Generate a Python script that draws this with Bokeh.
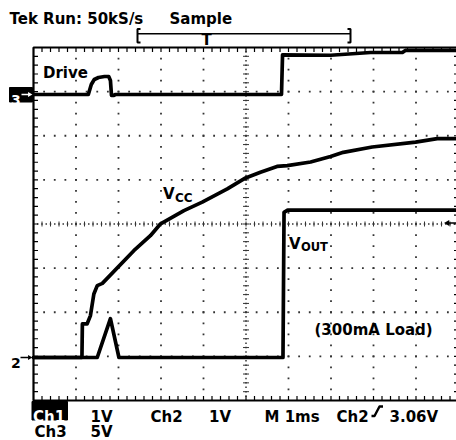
import numpy as np
from bokeh.plotting import figure
from bokeh.models import Range1d
from bokeh.core.properties import value
from bokeh.embed import file_html
from bokeh.resources import INLINE

# ---------------- data (time in ms from left graticule edge, volts) ----------------
drive_t = [0.0, 1.29, 1.36, 1.43, 1.53, 1.67, 1.77, 1.81, 1.835, 1.88, 1.93,
           5.835, 5.86, 6.99, 7.93, 8.68, 8.75, 9.96]
drive_v = [0.0, 0.0, 1.13, 1.70, 1.93, 2.04, 2.04, 1.59, -0.11, -0.11, 0.0,
           0.0, 4.50, 4.45, 4.76, 4.76, 4.99, 4.99]

vcc_t = [0.0, 1.14, 1.15, 1.26, 1.34, 1.42, 1.50, 1.62, 2.36, 2.75, 2.99,
         3.54, 3.97, 4.56, 4.99, 5.34, 5.73, 5.97, 6.52, 6.99, 7.29, 7.97,
         8.99, 9.50, 9.96]
vcc_v = [0.0, 0.0, 0.76, 0.76, 0.95, 1.44, 1.63, 1.68, 2.42, 2.76, 3.03,
         3.33, 3.52, 3.82, 4.07, 4.20, 4.33, 4.35, 4.43, 4.555, 4.65, 4.77,
         4.88, 4.96, 4.96]

vout_t = [0.0, 1.50, 1.81, 2.01, 5.87, 5.895, 5.98, 9.96]
vout_v = [0.0, 0.0, 0.88, 0.0, 0.0, 3.29, 3.34, 3.34]

header_left = "Tek Run: 50kS/s"
header_mode = "Sample"
row1_labels = ["1V", "Ch2", "1V", "M 1ms", "Ch2", "3.06V"]
row2_labels = ["Ch3", "5V"]
ch1_label = "Ch1"
trace_labels = ["Drive", "(300mA Load)"]

CH12_VDIV = 1.0
CH3_VDIV = 5.0

# ---------------- screen geometry (canvas pixels) ----------------
W, H = 456, 440
GX0, GDX = 33.0, 42.5      # left graticule edge, px per division
GY0, GDY = 400.0, 44.125   # bottom graticule edge, px per division


def X(px):
    return (px - GX0) / GDX


def Y(py):
    return (GY0 - py) / GDY


ys0, ys1 = Y(H), Y(0)
g12 = Y(357)   # channel 1/2 ground (div)
g3 = Y(94)     # channel 3 ground (div)

p = figure(width=W, height=H, output_backend="svg", toolbar_location=None,
           x_range=Range1d(X(0), X(W)), y_range=Range1d(ys0, ys1),
           x_axis_type=None, y_axis_type=None, min_border=0,
           outline_line_color=None, background_fill_color="white",
           border_fill_color="white")
p.extra_y_ranges = {
    "ch12": Range1d((ys0 - g12) * CH12_VDIV, (ys1 - g12) * CH12_VDIV),
    "ch3": Range1d((ys0 - g3) * CH3_VDIV, (ys1 - g3) * CH3_VDIV),
}

FONT = value("DejaVu Sans")
DOT = "#333333"

# ---------------- graticule ----------------
pts_x, pts_y = [], []
for gx in [1, 2, 3, 4, 6, 7, 8, 9]:
    ys = np.arange(0.25, 8.0, 0.25)
    pts_x += [gx] * len(ys)
    pts_y += list(ys)
for gy in [1, 2, 3, 5, 6, 7]:
    xs = np.arange(0.25, 10.0, 0.25)
    pts_x += list(xs)
    pts_y += [gy] * len(xs)
p.scatter(pts_x, pts_y, marker="square", size=1.8, color=DOT, line_color=None)

# center crosshair
cy = np.arange(0.1, 8.0, 0.1)
cx = np.arange(0.1, 10.0, 0.1)
p.scatter([5] * len(cy), list(cy), marker="square", size=1.5, color=DOT, line_color=None)
p.scatter(list(cx), [4] * len(cx), marker="square", size=1.5, color=DOT, line_color=None)
tky = np.arange(0.2, 8.0, 0.2)
tkx = np.arange(0.2, 10.0, 0.2)
hx = 3.0 / GDX
hy = 2.5 / GDY
p.segment(x0=[5 - hx] * len(tky), y0=list(tky), x1=[5 + hx] * len(tky), y1=list(tky),
          line_color=DOT, line_width=1)
p.segment(x0=list(tkx), y0=[4 - hy] * len(tkx), x1=list(tkx), y1=[4 + hy] * len(tkx),
          line_color=DOT, line_width=1)

# border
p.line([10, 0, 0, 10, 10], [8, 8, 0, 0, 8], line_color="black", line_width=2.2)
TLX = 4.5 / GDX
TLY = 4.5 / GDY
bx = np.arange(0.2, 10.0, 0.2)
by = np.arange(0.2, 8.0, 0.2)
p.segment(x0=list(bx), y0=[0] * len(bx), x1=list(bx), y1=[TLY] * len(bx),
          line_color="black", line_width=1.2)
p.segment(x0=list(bx), y0=[8] * len(bx), x1=list(bx), y1=[8 - TLY] * len(bx),
          line_color="black", line_width=1.2)
p.segment(x0=[0] * len(by), y0=list(by), x1=[TLX] * len(by), y1=list(by),
          line_color="black", line_width=1.2)
p.segment(x0=[10] * len(by), y0=list(by), x1=[10 - TLX] * len(by), y1=list(by),
          line_color="black", line_width=1.2)

# ---------------- traces ----------------
p.line(drive_t, drive_v, y_range_name="ch3", line_color="black", line_width=3.7,
       line_join="round", line_cap="round")
p.line(vcc_t, vcc_v, y_range_name="ch12", line_color="black", line_width=3.7,
       line_join="round", line_cap="round")
p.line(vout_t, vout_v, y_range_name="ch12", line_color="black", line_width=3.7,
       line_join="round", line_cap="round")


# ---------------- texts ----------------
def txt(px, py, s, size="15px", color="black", align="left"):
    p.text(x=[X(px)], y=[Y(py)], text=[s], text_font=FONT,
           text_font_size=value(size), text_font_style="bold",
           text_color=color, text_align=align, text_baseline="alphabetic")


txt(9, 18.5, header_left)
txt(169, 18.5, header_mode)

# trigger position bracket
p.line([X(140), X(137), X(137), X(140)], [Y(28.5), Y(28.5), Y(42), Y(42)],
       line_color="black", line_width=2)
p.line([X(347), X(350), X(350), X(347)], [Y(28.5), Y(28.5), Y(42), Y(42)],
       line_color="black", line_width=2)
p.line([X(137), X(350)], [Y(33.3), Y(33.3)], line_color="black", line_width=1.5)
txt(206, 39, "T", size="15px", align="center")

txt(42.5, 72, trace_labels[0])
txt(162.5, 193.5, "V")
txt(174.5, 197, "CC", size="12px")
txt(288.5, 243.5, "V")
txt(300.5, 246.5, "OUT", size="11.5px")
txt(314, 329.5, trace_labels[1])

# channel 3 marker (white on black)
p.quad(left=[X(9)], right=[X(32)], bottom=[Y(101.5)], top=[Y(87)], color="black")
txt(10.5, 99.5, "3", size="14px", color="white")
p.line([X(21), X(29)], [Y(94), Y(94)], line_color="white", line_width=1.5)
p.scatter([X(29)], [Y(94)], marker="triangle", angle=-np.pi / 2, size=5,
          color="white", line_color=None)

# channel 2 marker
txt(10.5, 362, "2", size="14px")
p.line([X(20), X(28)], [Y(357), Y(357)], line_color="black", line_width=1.3)
p.scatter([X(29)], [Y(357)], marker="triangle", angle=-np.pi / 2, size=5,
          color="black", line_color=None)

# trigger level marker (right)
p.line([X(447), X(456)], [Y(222.5), Y(222.5)], line_color="black", line_width=1.5)
p.scatter([X(447)], [Y(222.5)], marker="triangle", angle=np.pi / 2, size=6,
          color="black", line_color=None)

# readout
p.quad(left=[X(31.5)], right=[X(67)], bottom=[Y(419.5)], top=[Y(401)], color="black")
txt(32.5, 416.5, ch1_label, color="white")
row1_x = [90, 150, 208.5, 264, 336, 389]
for xx, s in zip(row1_x, row1_labels):
    txt(xx, 416.5, s)
txt(34, 431, row2_labels[0])
txt(90, 431, row2_labels[1])
# rising-edge slope symbol
p.line([X(371), X(374), X(379), X(382.5)], [Y(415.5), Y(415.5), Y(406), Y(406)],
       line_color="black", line_width=2.4, line_join="round")

open("out.html", "w").write(file_html(p, INLINE))
